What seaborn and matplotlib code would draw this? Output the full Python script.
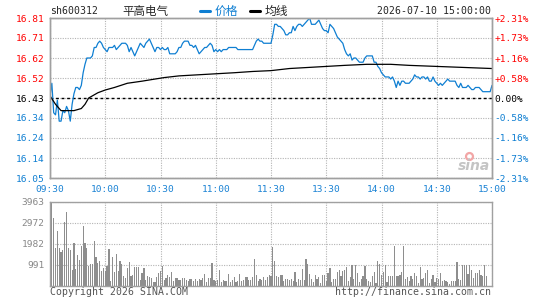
import numpy as np
import pandas as pd
import matplotlib
matplotlib.use("Agg")
import matplotlib.pyplot as plt
from matplotlib.lines import Line2D
import seaborn as sns

sns.set_style("white")
plt.rcParams["font.family"] = ["DejaVu Sans Mono", "Noto Sans CJK SC"]

W, H = 545, 300
BLUE = "#0f7fd2"
RED = "#ff0000"
GRAY = "#999999"

prev_close = 16.43

# minute prices, 09:30-11:30 and 13:01-15:00
price_am = [
    16.44, 16.50, 16.36, 16.35, 16.42, 16.32, 16.32, 16.37, 16.36, 16.39,
    16.37, 16.32, 16.40, 16.45, 16.48, 16.48, 16.47, 16.49, 16.55, 16.59,
    16.62, 16.62, 16.62, 16.63, 16.67, 16.67, 16.69, 16.70, 16.69, 16.67,
    16.66, 16.65, 16.67, 16.67, 16.67, 16.68, 16.66, 16.67, 16.68, 16.69,
    16.69, 16.69, 16.68, 16.65, 16.67, 16.65, 16.63, 16.65, 16.67, 16.69,
    16.68, 16.67, 16.69, 16.70, 16.71, 16.69, 16.67, 16.65, 16.67, 16.67,
    16.66, 16.67, 16.66, 16.66, 16.67, 16.64, 16.64, 16.64, 16.64, 16.65,
    16.67, 16.67, 16.69, 16.70, 16.70, 16.70, 16.68, 16.68, 16.67, 16.68,
    16.66, 16.64, 16.65, 16.66, 16.67, 16.67, 16.68, 16.69, 16.68, 16.65,
    16.66, 16.65, 16.66, 16.65, 16.66, 16.66, 16.66, 16.67, 16.67, 16.67,
    16.67, 16.67, 16.66, 16.66, 16.66, 16.66, 16.66, 16.66, 16.66, 16.66,
    16.66, 16.68, 16.70, 16.71, 16.70, 16.70, 16.69, 16.69, 16.69, 16.69,
    16.69,
]
price_pm = [
    16.73, 16.78, 16.78, 16.77, 16.77, 16.76, 16.75, 16.73, 16.73,
    16.74, 16.74, 16.77, 16.75, 16.77, 16.78, 16.78, 16.77, 16.78, 16.79,
    16.80, 16.81, 16.78, 16.78, 16.78, 16.79, 16.80, 16.78, 16.76, 16.75,
    16.75, 16.74, 16.78, 16.77, 16.76, 16.74, 16.72, 16.71, 16.70, 16.69,
    16.66, 16.64, 16.63, 16.64, 16.61, 16.62, 16.62, 16.61, 16.60, 16.60,
    16.60, 16.62, 16.63, 16.63, 16.63, 16.63, 16.60, 16.60, 16.58, 16.57,
    16.55, 16.54, 16.53, 16.53, 16.53, 16.52, 16.53, 16.51, 16.48, 16.51,
    16.49, 16.51, 16.51, 16.50, 16.50, 16.50, 16.51, 16.52, 16.54, 16.53,
    16.53, 16.52, 16.53, 16.53, 16.52, 16.53, 16.51, 16.51, 16.53, 16.51,
    16.50, 16.49, 16.50, 16.49, 16.50, 16.51, 16.52, 16.51, 16.51, 16.51,
    16.51, 16.49, 16.48, 16.50, 16.48, 16.48, 16.48, 16.49, 16.48, 16.47,
    16.47, 16.48, 16.48, 16.48, 16.47, 16.46, 16.46, 16.46, 16.46, 16.46,
    16.49,
]

# average price line, read at selected minutes
avg_idx = [0, 3, 6, 13, 17, 19, 21, 23, 26, 30, 35, 42, 50, 57, 62, 70, 80, 90,
           100, 110, 120, 130, 140, 150, 160, 172, 185, 195, 210, 225, 240]
avg_val = [16.44, 16.40, 16.37, 16.37, 16.38, 16.40, 16.43, 16.44, 16.455, 16.468,
           16.48, 16.50, 16.51, 16.52, 16.527, 16.535, 16.54, 16.545, 16.55, 16.556,
           16.56, 16.57, 16.575, 16.58, 16.585, 16.59, 16.59, 16.585, 16.58, 16.575,
           16.57]

vol_am = [
    440, 3963, 3190, 1777, 2564, 1777, 1589, 1699, 3004, 3476,
    1777, 1699, 755, 2013, 802, 1463, 1227, 1856, 2800, 2013,
    1777, 912, 1022, 1022, 2092, 1337, 1070, 1148, 676, 834,
    708, 912, 1746, 236, 1369, 645, 1494, 708, 1180, 1022,
    472, 362, 834, 1117, 472, 519, 881, 881, 881, 283,
    598, 834, 283, 472, 425, 362, 173, 173, 425, 598,
    708, 912, 267, 362, 488, 425, 645, 236, 362, 362,
    283, 283, 362, 362, 283, 236, 315, 315, 204, 315,
    204, 315, 283, 362, 551, 173, 362, 362, 1070, 283,
    236, 283, 755, 173, 283, 204, 204, 551, 173, 283,
    409, 173, 204, 551, 204, 283, 409, 409, 283, 283,
    409, 1258, 488, 204, 315, 283, 393, 283, 425, 488,
    440,
]
vol_pm = [
    1825, 1180, 440, 393, 488, 488, 204, 315, 315, 283, 315, 204,
    645, 160, 315, 283, 790, 283, 1258, 1022, 551, 315, 173, 488, 315, 393, 126, 488, 488, 236,
    598, 840, 173, 330, 315, 645, 755, 440, 708, 755, 870, 220, 410, 970, 315, 970, 598, 183, 330, 440,
    930, 330, 236, 160, 440, 650, 120, 1180, 1030, 520, 660, 970, 160, 470, 440, 470, 1880, 470, 470, 520,
    640, 1850, 300, 420, 200, 470, 330, 580, 440, 110, 860, 300, 340, 580, 720, 130, 330, 520, 160, 380,
    330, 600, 220, 290, 200, 160, 60, 200, 200, 200, 1100, 320, 250, 990, 980, 960, 560, 990, 720, 350,
    600, 610, 720, 520, 470, 960, 470, 0, 0, 0,
]

price_labels = ["16.81", "16.71", "16.62", "16.52", "16.43", "16.34", "16.24", "16.14", "16.05"]
pct_labels = ["+2.31%", "+1.73%", "+1.16%", "+0.58%", "0.00%", "-0.58%", "-1.16%", "-1.73%", "-2.31%"]
vol_ticks = [991, 1982, 2972, 3963]
time_labels = ["09:30", "10:00", "10:30", "11:00", "11:30", "13:30", "14:00", "14:30", "15:00"]

df = pd.DataFrame({"t": np.arange(len(price_am) + len(price_pm)), "price": price_am + price_pm})
vdf = pd.DataFrame({"t": np.arange(len(vol_am) + len(vol_pm)), "vol": vol_am + vol_pm})
avg = pd.DataFrame({"t": avg_idx, "avg": avg_val})

fig = plt.figure(figsize=(W / 100, H / 100), dpi=100)
ax = fig.add_axes([50 / W, 1 - 178 / H, 442 / W, 160 / H])
axv = fig.add_axes([50 / W, 1 - 285.7 / H, 442 / W, 84 / H])

grid_kw = dict(color="#b4b4b4", linestyle=(0, (1, 1.2)), linewidth=0.8)
tick_pos = np.linspace(16.81, 16.05, len(price_labels))
xt = np.arange(0, 241, 30)

# price panel
sns.lineplot(data=df, x="t", y="price", ax=ax, color=BLUE, linewidth=0.9, estimator=None)
sns.lineplot(data=avg, x="t", y="avg", ax=ax, color="black", linewidth=0.9, estimator=None)
ax.axhline(prev_close, color="black", linestyle=(0, (2, 2)), linewidth=1.0, zorder=1.8)
ax.set_xlim(0, 240)
ax.set_ylim(16.05, 16.81)
ax.set_xticks(xt)
ax.set_xticklabels(time_labels, color="#1a82d4", fontsize=6.8)
ax.set_yticks(tick_pos)
ax.set_yticklabels(price_labels, fontsize=6.8)
for lab, v in zip(ax.get_yticklabels(), tick_pos):
    lab.set_color(RED if v > prev_close + 0.001 else ("black" if abs(v - prev_close) < 0.001 else BLUE))
ax.tick_params(length=0, pad=4)
ax.tick_params(axis="x", pad=5)
ax.grid(True, **grid_kw)
ax.set_xlabel("")
ax.set_ylabel("")

ax2 = ax.twinx()
ax2.set_ylim(ax.get_ylim())
ax2.set_yticks(tick_pos)
ax2.set_yticklabels(pct_labels, fontsize=6.8)
for lab, v in zip(ax2.get_yticklabels(), tick_pos):
    lab.set_color(RED if v > prev_close + 0.001 else ("black" if abs(v - prev_close) < 0.001 else BLUE))
ax2.tick_params(length=0, pad=2)

# volume panel
sns.barplot(data=vdf, x="t", y="vol", ax=axv, native_scale=True, color="#8e8e8e",
            width=0.65, linewidth=0, errorbar=None, saturation=1)
axv.set_xlim(0, 240)
axv.set_ylim(0, 3963)
axv.set_xticks(xt)
axv.set_xticklabels([])
axv.set_yticks(vol_ticks)
axv.set_yticklabels([str(v) for v in vol_ticks], color="#888888", fontsize=6.8)
axv.tick_params(length=0, pad=4)
axv.grid(True, **grid_kw)
axv.set_xlabel("")
axv.set_ylabel("")

for a in (ax, ax2, axv):
    for s in a.spines.values():
        s.set_color("#a0a0a0")
        s.set_linewidth(1.0)

# header
fig.text(50 / W, 1 - 11 / H, "sh600312", fontsize=7.1, va="center", ha="left")
fig.text(145 / W, 1 - 11 / H, "平高电气", fontsize=8.3, va="center", ha="center",
         family=["Noto Sans CJK SC", "DejaVu Sans"])
fig.add_artist(Line2D([200 / W, 210 / W], [1 - 11 / H] * 2, color=BLUE, linewidth=2.2,
                      transform=fig.transFigure))
fig.text(215 / W, 1 - 11 / H, "价格", fontsize=8.5, va="center", ha="left", color=BLUE,
         family=["Noto Sans CJK SC", "DejaVu Sans"])
fig.add_artist(Line2D([250 / W, 260 / W], [1 - 11 / H] * 2, color="black", linewidth=2.2,
                      transform=fig.transFigure))
fig.text(265 / W, 1 - 11 / H, "均线", fontsize=8.5, va="center", ha="left",
         family=["Noto Sans CJK SC", "DejaVu Sans"])
fig.text(491 / W, 1 - 11 / H, "2026-07-10 15:00:00", fontsize=7.1, va="center", ha="right")

# footer
fig.text(50 / W, 1 - 292 / H, "Copyright 2026 SINA.COM", fontsize=7.1, va="center",
         ha="left", color="#555555")
fig.text(491 / W, 1 - 292 / H, "http://finance.sina.com.cn", fontsize=7.1, va="center",
         ha="right", color="#555555")

# sina watermark
fig.text(474 / W, 1 - 166 / H, "sina", fontsize=10, style="italic", weight="bold",
         color="#c4c4c4", ha="center", va="center", family="DejaVu Sans")
fig.add_artist(Line2D([469 / W], [1 - 156 / H], marker="o", markersize=5, markeredgewidth=1.6,
                      markerfacecolor="none", markeredgecolor="#f2a6a6",
                      transform=fig.transFigure))

fig.savefig("out.png", dpi=100)
